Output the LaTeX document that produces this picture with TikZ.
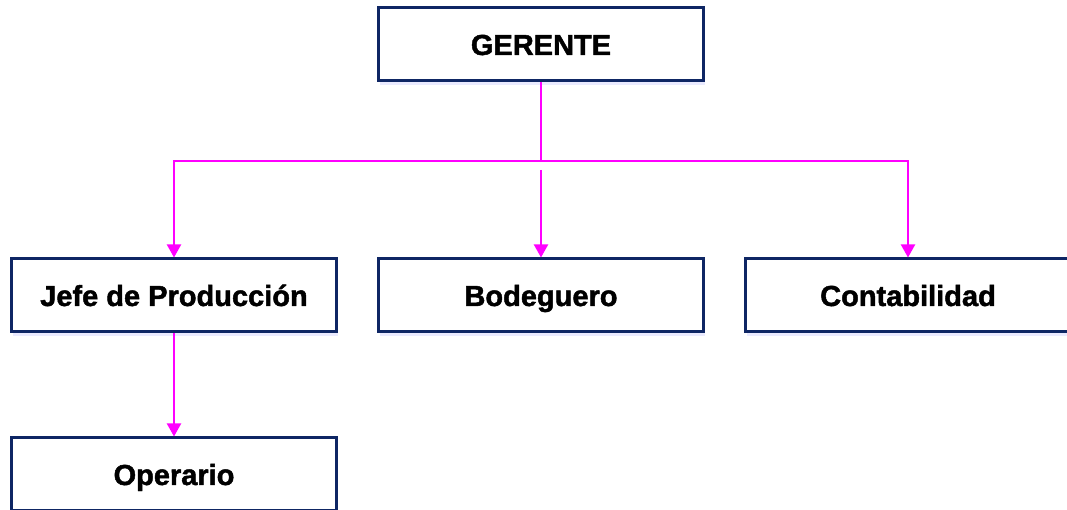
\documentclass[tikz,border=0pt]{standalone}
\usepackage{fontspec}
\setmainfont{Liberation Sans}[BoldFeatures={FakeBold=1.6}]
\usetikzlibrary{arrows.meta,shadows}
\definecolor{navy}{RGB}{14,38,100}
\definecolor{magenta}{RGB}{255,0,255}
\tikzset{
  cargo/.style={draw=navy,line width=3pt,fill=white,minimum width=325pt,
    minimum height=73pt,inner sep=0pt,text height=21pt,text depth=0pt,
    font=\fontsize{29}{30}\selectfont\bfseries,
    drop shadow={opacity=0.18,fill=blue!45,shadow xshift=1pt,shadow yshift=-4pt}},
  flecha/.style={draw=magenta,line width=2pt,-{Triangle[length=13pt,width=14pt]}}
}
\begin{document}
\begin{tikzpicture}[x=1pt,y=1pt]
  \clip (0,0) rectangle (1067,510);
  \fill[white] (0,0) rectangle (1067,510);
  \node[cargo] (gerente) at (541,465.5) {GERENTE};
  \node[cargo] (jefe) at (174,214.5) {Jefe de Producción};
  \node[cargo] (bodega) at (541,214.5) {Bodeguero};
  \node[cargo] (conta) at (908,214.5) {Contabilidad};
  \node[cargo] (operario) at (174,35.5) {Operario};
  \coordinate (bus) at (541,349);
  \coordinate (gap) at (541,340);
  \draw[draw=magenta,line width=2pt] (gerente.south) -- (bus);
  \draw[flecha] (bus) -| (jefe.north);
  \draw[flecha] (bus) -| (conta.north);
  \draw[flecha] (gap) -- (bodega.north);
  \draw[flecha] (jefe.south) -- (operario.north);
\end{tikzpicture}
\end{document}
